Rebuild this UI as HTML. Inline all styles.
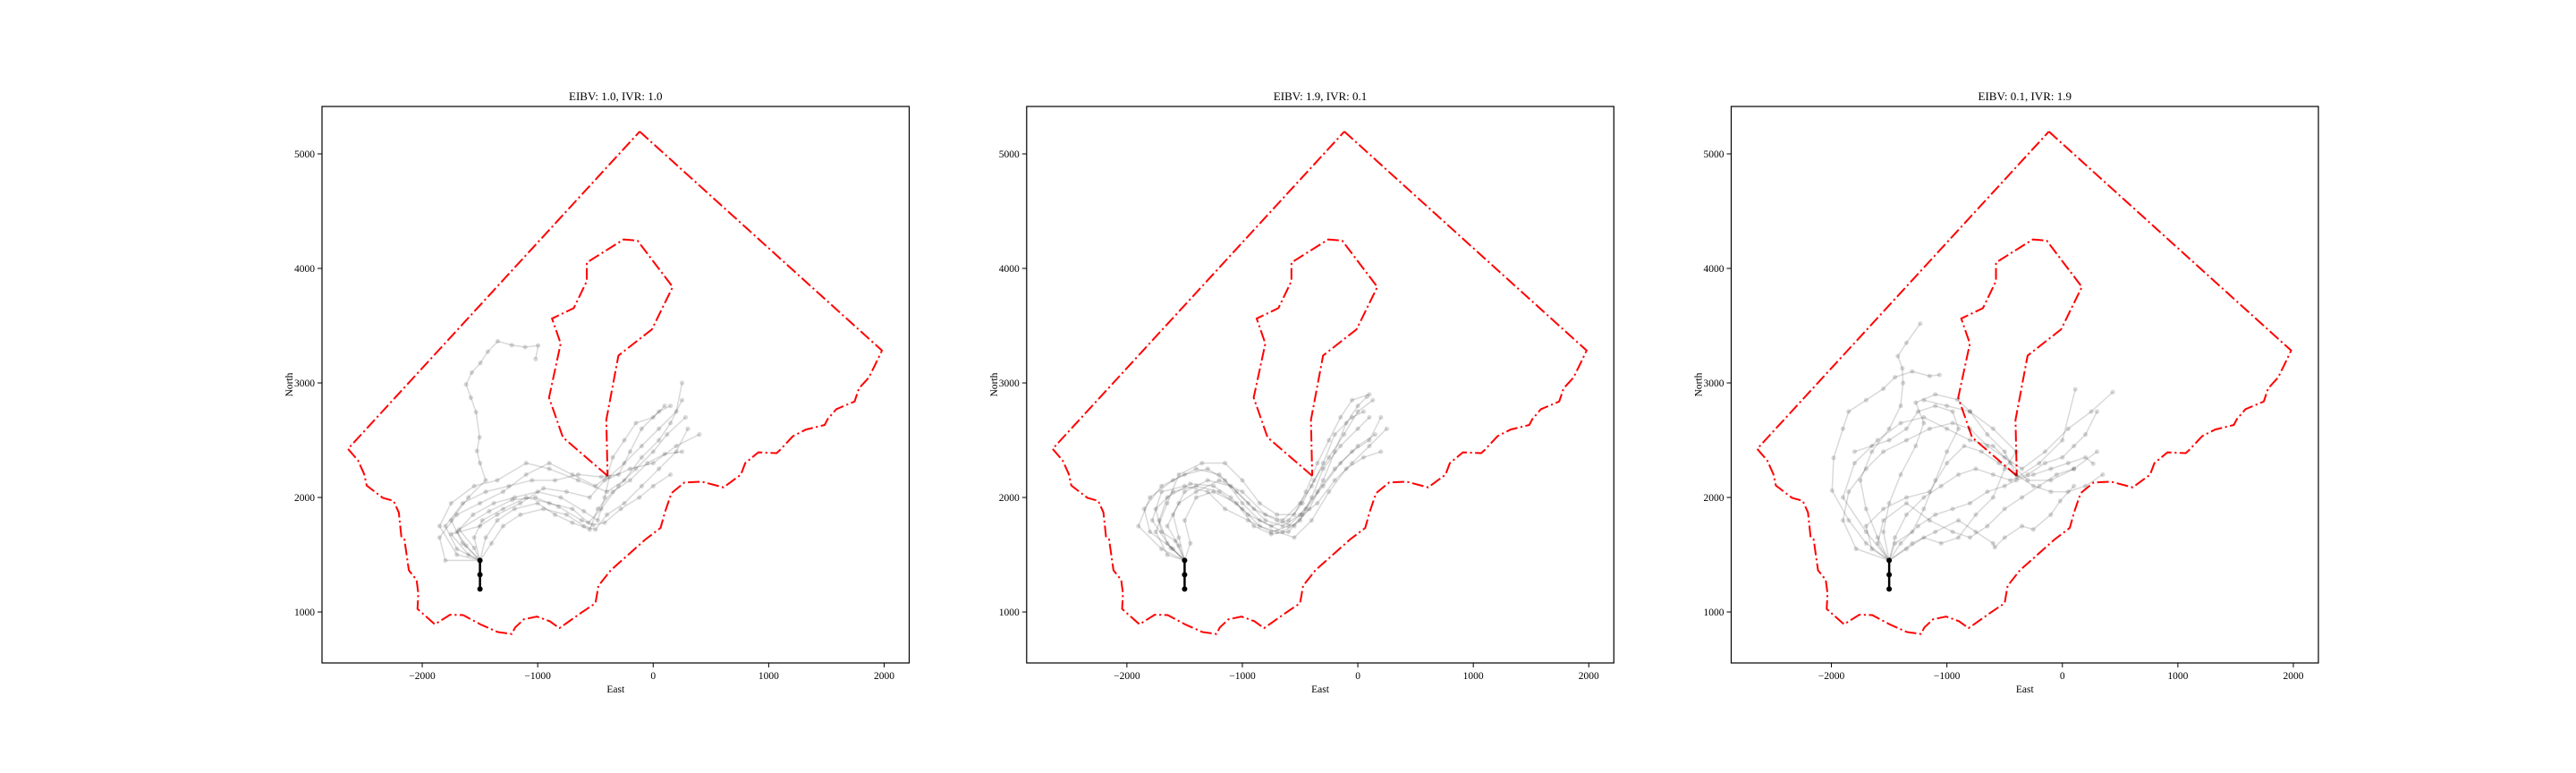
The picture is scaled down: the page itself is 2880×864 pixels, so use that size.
<!DOCTYPE html>
<html><head><meta charset="utf-8"><style>
html,body{margin:0;padding:0;background:#fff;}
svg{display:block;font-family:"Liberation Serif",serif;}
</style></head><body>
<svg id="fig" width="2880" height="864" viewBox="0 0 2880 864" xmlns="http://www.w3.org/2000/svg"></svg>
<script>
const titles = ["EIBV: 1.0, IVR: 1.0","EIBV: 1.9, IVR: 0.1","EIBV: 0.1, IVR: 1.9"];
const xTicks = [-2000,-1000,0,1000,2000];
const yTicks = [1000,2000,3000,4000,5000];
const startPath = [[-1500,1200],[-1500,1325],[-1500,1450]];
const outerBoundary = [[-117,5195],[1981,3283],[1925,3165],[1868,3047],[1782,2953],[1744,2838],[1586,2771],[1511,2684],[1485,2633],[1323,2593],[1210,2535],[1098,2414],[1068,2387],[910,2394],[797,2300],[759,2199],[609,2088],[421,2138],[271,2131],[158,2037],[101,1869],[64,1734],[-68,1633],[-218,1498],[-368,1364],[-474,1229],[-500,1077],[-632,987],[-812,859],[-895,919],[-1007,960],[-1120,936],[-1195,865],[-1225,808],[-1346,825],[-1496,892],[-1646,973],[-1759,976],[-1891,892],[-2041,1027],[-2034,1162],[-2049,1280],[-2116,1364],[-2135,1498],[-2154,1633],[-2180,1650],[-2203,1869],[-2248,1970],[-2342,1997],[-2481,2104],[-2503,2205],[-2556,2323],[-2643,2424],[-117,5195]];
const innerBoundary = [[-395,2189],[-782,2525],[-902,2872],[-801,3344],[-876,3562],[-688,3653],[-575,3889],[-575,4051],[-256,4253],[-135,4242],[169,3838],[-11,3468],[-301,3239],[-406,2677],[-395,2189]];
const paths1 = [
[[-1500,1450],[-1620,1580],[-1700,1700],[-1560,1850],[-1380,1950],[-1200,2000],[-1000,2050],[-800,2000],[-600,1880],[-480,1800],[-420,2000],[-380,2180],[-250,2300],[-100,2450],[50,2600],[200,2750],[250,3000]],
[[-1500,1450],[-1550,1650],[-1480,1800],[-1300,1900],[-1100,2000],[-900,1950],[-700,1900],[-560,1780],[-450,1900],[-300,2100],[-150,2250],[0,2400],[120,2550],[280,2700]],
[[-1500,1450],[-1700,1550],[-1800,1750],[-1650,1950],[-1450,2050],[-1250,2100],[-1050,2150],[-850,2150],[-650,2200],[-450,2180],[-300,2200],[-200,2400],[-100,2600],[50,2750],[150,2800]],
[[-1500,1450],[-1400,1600],[-1300,1750],[-1150,1850],[-950,1900],[-750,1850],[-600,1750],[-500,1720],[-400,1850],[-250,1950],[-100,2100],[50,2250],[200,2400],[300,2600]],
[[-1500,1450],[-1650,1600],[-1750,1800],[-1600,2000],[-1450,2150],[-1500,2300],[-1526,2407],[-1504,2525],[-1534,2745],[-1579,2872],[-1620,2987],[-1571,3091],[-1496,3175],[-1432,3273],[-1346,3364],[-1225,3330],[-1109,3313],[-996,3327],[-1018,3209]],
[[-1500,1450],[-1800,1450],[-1850,1650],[-1700,1850],[-1500,1950],[-1300,2050],[-1100,2200],[-900,2300],[-700,2200],[-500,2100],[-400,2180],[-350,2350],[-250,2500],[-150,2650],[0,2700],[100,2800]],
[[-1500,1450],[-1600,1500],[-1750,1680],[-1500,1750],[-1350,1850],[-1150,1950],[-950,2080],[-750,2050],[-550,2000],[-420,2150],[-200,2250],[0,2300],[200,2450],[400,2550]],
[[-1500,1450],[-1450,1650],[-1350,1800],[-1200,1900],[-1000,1950],[-850,1850],[-700,1780],[-550,1720],[-480,1900],[-350,2050],[-200,2150],[-50,2300],[100,2380],[250,2400]],
[[-1500,1450],[-1700,1500],[-1850,1750],[-1750,1950],[-1550,2100],[-1350,2150],[-1100,2300],[-900,2250],[-650,2150],[-400,2050],[-250,2150],[-100,2350],[50,2500],[150,2650],[250,2850]],
[[-1500,1450],[-1550,1560],[-1680,1720],[-1420,1880],[-1220,1980],[-1020,2000],[-820,1920],[-620,1800],[-520,1760],[-420,1780],[-280,1900],[-120,2000],[0,2100],[150,2200]]
];
const paths2 = [
[[-1500,1450],[-1650,1600],[-1720,1800],[-1650,2000],[-1450,2120],[-1250,2100],[-1100,2000],[-950,1850],[-750,1750],[-600,1800],[-480,1950],[-380,2150],[-250,2350],[-120,2550],[0,2750],[130,2850]],
[[-1500,1450],[-1600,1550],[-1800,1700],[-1850,1900],[-1700,2100],[-1500,2200],[-1300,2250],[-1150,2150],[-1000,1950],[-850,1800],[-650,1700],[-500,1800],[-400,2000],[-300,2250],[-150,2450],[0,2600],[100,2700]],
[[-1500,1450],[-1550,1650],[-1600,1850],[-1500,2050],[-1300,2150],[-1100,2100],[-950,1950],[-800,1800],[-650,1750],[-500,1850],[-350,2050],[-200,2250],[-50,2400],[100,2500],[200,2700]],
[[-1500,1450],[-1700,1550],[-1900,1750],[-1800,2000],[-1600,2150],[-1400,2250],[-1200,2200],[-1050,2050],[-900,1900],[-700,1800],[-550,1750],[-420,1900],[-300,2150],[-200,2400],[-100,2650],[0,2800],[80,2880]],
[[-1500,1450],[-1450,1600],[-1500,1800],[-1400,2000],[-1250,2050],[-1050,1950],[-900,1750],[-750,1680],[-600,1700],[-480,1850],[-350,1950],[-200,2150],[-50,2300],[100,2450],[250,2600]],
[[-1500,1450],[-1650,1500],[-1750,1700],[-1650,1950],[-1550,2200],[-1350,2300],[-1150,2300],[-1000,2150],[-850,1950],[-700,1850],[-550,1850],[-450,2050],[-350,2300],[-250,2500],[-150,2700],[-50,2850],[100,2900]],
[[-1500,1450],[-1580,1620],[-1700,1700],[-1750,1900],[-1600,2050],[-1400,2100],[-1200,2050],[-1000,1900],[-850,1750],[-700,1700],[-550,1650],[-400,1800],[-250,2050],[-100,2250],[50,2350],[200,2400]],
[[-1500,1450],[-1550,1580],[-1650,1750],[-1550,1950],[-1400,2050],[-1200,2150],[-1000,2050],[-800,1850],[-650,1800],[-500,1950],[-400,2100],[-300,2300],[-200,2550],[-50,2700],[50,2750]],
[[-1500,1450],[-1620,1560],[-1780,1800],[-1700,2050],[-1500,2100],[-1300,2050],[-1150,1900],[-950,1800],[-750,1700],[-600,1750],[-450,1900],[-300,2100],[-150,2300],[0,2450],[150,2550]]
];
const paths3 = [
[[-1500,1450],[-1600,1650],[-1700,1900],[-1750,2150],[-1650,2400],[-1500,2600],[-1400,2800],[-1380,3000],[-1386,3128],[-1425,3234],[-1350,3350],[-1231,3518]],
[[-1500,1450],[-1700,1600],[-1850,1800],[-1994,2060],[-1981,2346],[-1900,2600],[-1851,2750],[-1700,2850],[-1550,2950],[-1450,3050],[-1300,3100],[-1150,3060],[-1064,3070]],
[[-1500,1450],[-1450,1650],[-1350,1850],[-1200,2000],[-1050,2100],[-900,2200],[-750,2250],[-600,2200],[-450,2150],[-300,2200],[-150,2300],[0,2350],[100,2450],[200,2550],[300,2750]],
[[-1500,1450],[-1400,1600],[-1250,1750],[-1100,1850],[-950,1900],[-800,1950],[-650,2050],[-500,2100],[-400,2150],[-250,2200],[-100,2250],[50,2300],[200,2350],[267,2295]],
[[-1500,1450],[-1300,1600],[-1100,1700],[-900,1800],[-750,1700],[-600,1600],[-585,1565],[-500,1650],[-350,1750],[-252,1721],[-100,1850],[-19,1969],[100,2100]],
[[-1500,1450],[-1550,1700],[-1500,1950],[-1400,2200],[-1270,2450],[-1200,2650],[-1270,2828],[-1100,2900],[-909,2854],[-800,2750],[-650,2550],[-500,2400],[-391,2177],[-200,2300],[0,2500],[112,2945]],
[[-1500,1450],[-1787,1552],[-1900,1800],[-1850,2050],[-1700,2250],[-1550,2400],[-1350,2500],[-1150,2600],[-950,2650],[-800,2600],[-650,2450],[-500,2350],[-350,2250],[-150,2400],[50,2600],[250,2750],[436,2920]],
[[-1500,1450],[-1650,1550],[-1700,1750],[-1550,1900],[-1350,2000],[-1150,2050],[-1000,2300],[-850,2450],[-700,2400],[-550,2300],[-400,2200],[-250,2100],[-100,2050],[50,2050],[200,2100],[350,2200]],
[[-1500,1450],[-1450,1600],[-1300,1700],[-1200,1900],[-1100,2150],[-1000,2400],[-900,2600],[-950,2750],[-1100,2800],[-1250,2750],[-1350,2600],[-1500,2500],[-1650,2450],[-1800,2400]],
[[-1500,1450],[-1600,1600],[-1550,1800],[-1350,1950],[-1150,1800],[-950,1700],[-800,1650],[-650,1750],[-500,1900],[-350,2000],[-200,2100],[-50,2200],[100,2250]],
[[-1500,1450],[-1350,1550],[-1200,1650],[-1050,1600],[-900,1650],[-750,1850],[-600,2000],[-500,2250],[-400,2400],[-600,2600],[-800,2750],[-1000,2800],[-1200,2850]],
[[-1500,1450],[-1700,1700],[-1900,2000],[-1800,2300],[-1600,2500],[-1400,2650],[-1200,2700],[-1000,2600],[-800,2500],[-600,2450],[-450,2300],[-300,2150],[-100,2150],[100,2250],[300,2400]]
];
const allPaths = [paths1, paths2, paths3];

const NS = "http://www.w3.org/2000/svg";
const svgEl = document.getElementById('fig');
const panelLeft = [360, 1147.8, 1935.5];
const PW = 656.5, TOPY = 119, BOTY = 741;
const XMIN = -2868, XMAX = 2217, YMIN = 555, YMAX = 5414;
function mk(tag, attrs, parent){ const e=document.createElementNS(NS,tag); for(const k in attrs) e.setAttribute(k,attrs[k]); (parent||svgEl).appendChild(e); return e; }
function fmt(v){ return v<0 ? "\u2212"+Math.abs(v) : String(v); }

for (let p=0;p<3;p++){
  const L = panelLeft[p];
  const sx = v => L + (v - XMIN)/(XMAX - XMIN)*PW;
  const sy = v => BOTY - (v - YMIN)/(YMAX - YMIN)*(BOTY-TOPY);
  const g = mk('g',{});
  
  
  const clip = mk('clipPath',{id:'clip'+p},g);
  mk('rect',{x:L,y:TOPY,width:PW,height:BOTY-TOPY},clip);
  const plot = mk('g',{'clip-path':'url(#clip'+p+')'},g);
  for (const [arr,nm] of [[outerBoundary,'outer-boundary'],[innerBoundary,'inner-boundary']]){
    const pl = mk('polyline',{points:arr.map(q=>sx(q[0])+','+sy(q[1])).join(' '),fill:'none',stroke:'#ff0000','stroke-width':2,'stroke-dasharray':'13,3.5,2.2,3.5'},plot);
    
    
  }
  allPaths[p].forEach((path,i)=>{
    const tg = mk('g',{},plot);
    
    
    mk('polyline',{points:path.map(q=>sx(q[0])+','+sy(q[1])).join(' '),fill:'none',stroke:'#000','stroke-opacity':0.15,'stroke-width':1.5},tg);
    path.forEach(q=>{ mk('circle',{cx:sx(q[0]),cy:sy(q[1]),r:2.6,fill:'#000','fill-opacity':0.15},tg); });
  });
  const sg = mk('g',{},plot);
  
  
  mk('polyline',{points:startPath.map(q=>sx(q[0])+','+sy(q[1])).join(' '),fill:'none',stroke:'#000','stroke-width':2.5},sg);
  startPath.forEach(q=>mk('circle',{cx:sx(q[0]),cy:sy(q[1]),r:3,fill:'#000'},sg));
  const fr = mk('rect',{x:L,y:TOPY,width:PW,height:BOTY-TOPY,fill:'none',stroke:'#000','stroke-width':1.2},g);
  
  
  xTicks.forEach(t=>{
    const x=sx(t);
    mk('line',{x1:x,y1:BOTY,x2:x,y2:BOTY+5,stroke:'#000','stroke-width':1},g);
    const tx = mk('text',{x:x,y:BOTY+18,'text-anchor':'middle','font-size':11.5,fill:'#000'},g);
    tx.textContent = fmt(t);
    
    
  });
  yTicks.forEach(t=>{
    const y=sy(t);
    mk('line',{x1:L-5,y1:y,x2:L,y2:y,stroke:'#000','stroke-width':1},g);
    const tx = mk('text',{x:L-8,y:y+4,'text-anchor':'end','font-size':11.5,fill:'#000'},g);
    tx.textContent = fmt(t);
    
    
  });
  const ttl = mk('text',{x:L+PW/2,y:112,'text-anchor':'middle','font-size':13,fill:'#000'},g);
  ttl.textContent = titles[p];
  
  
  const xl = mk('text',{x:L+PW/2,y:774,'text-anchor':'middle','font-size':11.5,fill:'#000'},g);
  xl.textContent = 'East';
  
  
  const yl = mk('text',{x:0,y:0,'text-anchor':'middle','font-size':11.5,fill:'#000',transform:'translate('+(L-33)+','+((TOPY+BOTY)/2)+') rotate(-90)'},g);
  yl.textContent = 'North';
  
  
}
</script>
</body></html>
